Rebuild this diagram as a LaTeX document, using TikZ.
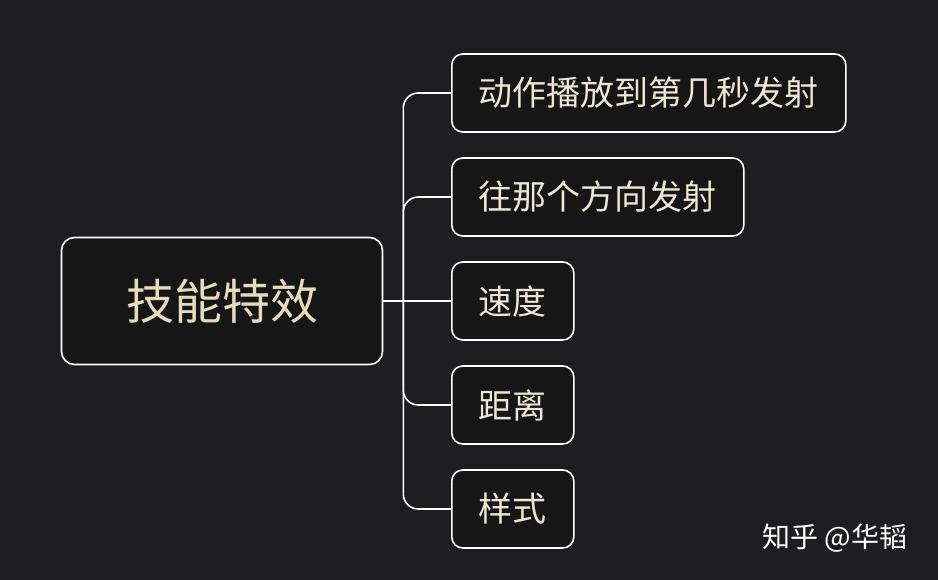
\documentclass[tikz,border=0pt]{standalone}
\usepackage{fontspec}
\setmainfont{Noto Sans CJK SC}
\usetikzlibrary{positioning}

\definecolor{bgdark}{HTML}{1E1D1F}
\definecolor{boxfill}{HTML}{161616}
\definecolor{rootink}{HTML}{E6DCBC}
\definecolor{leafink}{HTML}{ECE7D6}

\begin{document}
\begin{tikzpicture}[
		x=1pt, y=-1pt,
		nodes = {
			align = center
		},
		rootbox/.style={
			draw=white,
			fill=boxfill,
			rectangle,
			rounded corners=13pt,
			line width=1.6pt,
			minimum width=321pt,
			minimum height=127pt,
			text=rootink,
			font=\fontsize{48pt}{52pt}\selectfont
		},
		leaf/.style={
			draw=white,
			fill=boxfill,
			rectangle,
			rounded corners=11pt,
			line width=1.6pt,
			minimum height=78pt,
			inner xsep=27pt,
			text=leafink,
			font=\fontsize{34pt}{38pt}\selectfont
		},
		links/.style={
			draw=white,
			line width=1.6pt
		}
	]
		\useasboundingbox[fill=bgdark] (0,0) rectangle (938,580);

		\node[rootbox] (skill) at (222,301) {技能特效};

		\node[leaf,anchor=west] (frame) at (451,93) {动作播放到第几秒发射};

		\node[leaf] (dir) [below=24.4pt of frame.south west, anchor=north west] {往那个方向发射};

		\node[leaf] (speed) [below=24.4pt of dir.south west, anchor=north west] {速度};

		\node[leaf] (range) [below=24.4pt of speed.south west, anchor=north west] {距离};

		\node[leaf] (look) [below=24.4pt of range.south west, anchor=north west] {样式};

		\coordinate (trunk) at ([xshift=20pt]skill.east);

		\draw[links] (skill.east) -- (skill.east -| speed.west);
		\foreach \leafname in {frame, dir, range, look}
			\draw[links, rounded corners=15pt] (trunk) |- (\leafname.west);

		\node[text=white, font=\fontsize{28pt}{32pt}\selectfont, anchor=east] (mark) at (911,538) {知乎 @华韬};
	\end{tikzpicture}
\end{document}
